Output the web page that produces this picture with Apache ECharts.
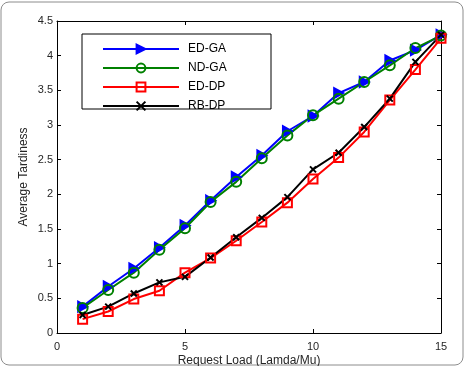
<!DOCTYPE html>
<html>
<head>
<meta charset="utf-8">
<script src="https://cdn.jsdelivr.net/npm/echarts@6/dist/echarts.min.js"></script>
<style>
    html, body { margin: 0; padding: 0; background: #fff; }
    #chart { width: 464px; height: 366px; }
</style>
</head>
<body>
<div id="chart"></div>
<script>
// request load (Lamda/Mu)
const loads = [1, 2, 3, 4, 5, 6, 7, 8, 9, 10, 11, 12, 13, 14, 15];
const edGa = [0.38, 0.67, 0.93, 1.23, 1.55, 1.91, 2.25, 2.56, 2.91, 3.13, 3.46, 3.62, 3.93, 4.08, 4.3];
const ndGa = [0.36, 0.62, 0.87, 1.2, 1.51, 1.89, 2.18, 2.52, 2.85, 3.14, 3.38, 3.62, 3.86, 4.11, 4.29];
const edDp = [0.2, 0.31, 0.49, 0.61, 0.87, 1.08, 1.33, 1.6, 1.88, 2.22, 2.53, 2.9, 3.36, 3.8, 4.25];
const rbDp = [0.26, 0.38, 0.57, 0.73, 0.81, 1.09, 1.38, 1.66, 1.96, 2.36, 2.6, 2.97, 3.38, 3.91, 4.3];

const FONT = "'Liberation Sans', Arial, sans-serif";
const TXT = "#262626";

function pairs(ys) {
    return loads.map((x, i) => [x, ys[i]]);
}

function line(name, ys, color, symbol, size, fill) {
    return {
        name: name,
        type: "line",
        data: pairs(ys),
        color: color,
        symbol: symbol,
        symbolSize: size,
        showAllSymbol: true,
        lineStyle: { color: color, width: 2 },
        itemStyle: { color: fill, borderColor: color, borderWidth: 2 },
        emphasis: { disabled: true }
    };
}

const chart = echarts.init(document.getElementById("chart"));

const axisBase = {
    type: "value",
    axisLine: { show: true, onZero: false, lineStyle: { color: "#000", width: 1 } },
    axisTick: { show: true, inside: true, length: 4, lineStyle: { color: "#000" } },
    splitLine: { show: false },
    axisLabel: { color: TXT, fontFamily: FONT, fontSize: 11 }
};

chart.setOption({
    animation: false,
    grid: { left: 57, right: 23, top: 21, bottom: 33, outerBoundsMode: "none" },
    legend: {
        orient: "vertical",
        left: 97,
        top: 38,
        itemWidth: 76,
        itemHeight: 11,
        itemGap: 7,
        textStyle: { color: "#000", fontFamily: FONT, fontSize: 12, padding: [0, 0, 0, 4] },
        data: ["ED-GA", "ND-GA", "ED-DP", "RB-DP"]
    },
    xAxis: [
        Object.assign({}, axisBase, {
            min: 0, max: 15, interval: 5,
            position: "bottom",
            name: "Request Load (Lamda/Mu)",
            nameLocation: "middle",
            nameGap: 22,
            nameMoveOverlap: false,
            nameTextStyle: { color: TXT, fontFamily: FONT, fontSize: 12 },
            axisLabel: Object.assign({}, axisBase.axisLabel, { margin: 8 })
        }),
        Object.assign({}, axisBase, {
            min: 0, max: 15, interval: 5,
            position: "top",
            axisLabel: { show: false }
        })
    ],
    yAxis: [
        Object.assign({}, axisBase, {
            min: 0, max: 4.5, interval: 0.5,
            position: "left",
            name: "Average Tardiness",
            nameLocation: "middle",
            nameGap: 27,
            nameMoveOverlap: false,
            nameTextStyle: { color: TXT, fontFamily: FONT, fontSize: 12 },
            axisLabel: Object.assign({}, axisBase.axisLabel, { margin: 4 })
        }),
        Object.assign({}, axisBase, {
            min: 0, max: 4.5, interval: 0.5,
            position: "right",
            axisLabel: { show: false }
        })
    ],
    graphic: [
        {
            type: "rect",
            shape: { x: 1, y: 2, width: 462, height: 363, r: 8 },
            style: { fill: "none", stroke: "#8c8c8c", lineWidth: 1 },
            silent: true
        },
        {
            type: "rect",
            shape: { x: 82, y: 34, width: 189, height: 75 },
            style: { fill: "#fff", stroke: "#000", lineWidth: 1 },
            z: 0,
            silent: true
        }
    ],
    series: [
        line("ED-GA", edGa, "#0000ff", "path://M0,0 L10,5 L0,10 Z", [9, 10], "#0000ff"),
        line("ND-GA", ndGa, "#008000", "circle", 10, "rgba(0,0,0,0)"),
        line("ED-DP", edDp, "#ff0000", "rect", 9, "rgba(0,0,0,0)"),
        line("RB-DP", rbDp, "#000000", "path://M0,0 L10,10 M10,0 L0,10", 6, "rgba(0,0,0,0)")
    ]
});
</script>
</body>
</html>
